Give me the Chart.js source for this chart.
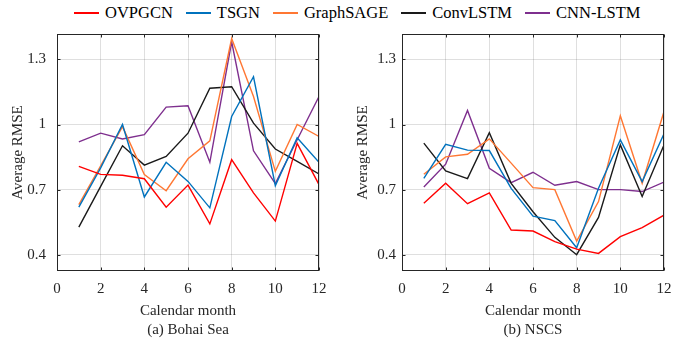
<!DOCTYPE html>
<html>
<head>
<meta charset="utf-8">
<script src="https://cdn.jsdelivr.net/npm/chart.js@4.4.1/dist/chart.umd.min.js"></script>
<style>
  body { margin: 0; background: #fff; }
  #wrap { position: relative; width: 697px; height: 343px; overflow: hidden; }
  #legend { position: absolute; left: 74px; top: 3px; display: flex; font-family: "Liberation Serif", serif; font-size: 16.5px; color: #000; }
  #legend .item { display: flex; align-items: center; margin-right: 13px; height: 20px; }
  #legend .swatch { width: 25px; height: 2px; margin-right: 6px; }
  canvas { position: absolute; top: 0; }
</style>
</head>
<body>
<div id="wrap">
  <div id="legend"></div>
  <canvas id="bohai" width="345" height="343" style="left:0px"></canvas>
  <canvas id="nscs" width="345" height="343" style="left:345px"></canvas>
</div>
<script>
const months = [1, 2, 3, 4, 5, 6, 7, 8, 9, 10, 11, 12];
const seriesNames = ["OVPGCN", "TSGN", "GraphSAGE", "ConvLSTM", "CNN-LSTM"];
const seriesColors = ["#ff0000", "#0072bd", "#ff7733", "#1a1a1a", "#7e2f8e"];
const yTicks = [0.4, 0.7, 1, 1.3];

// (a) Bohai Sea
const bohaiOVPGCN = [0.807, 0.770, 0.766, 0.750, 0.619, 0.721, 0.542, 0.838, 0.685, 0.555, 0.913, 0.723];
const bohaiTSGN = [0.619, 0.800, 1.000, 0.666, 0.826, 0.738, 0.616, 1.037, 1.220, 0.718, 0.939, 0.826];
const bohaiGraphSAGE = [0.631, 0.810, 0.990, 0.769, 0.695, 0.842, 0.925, 1.396, 1.129, 0.784, 1.000, 0.945];
const bohaiConvLSTM = [0.527, 0.715, 0.902, 0.813, 0.853, 0.960, 1.167, 1.174, 1.006, 0.887, 0.830, 0.772];
const bohaiCNNLSTM = [0.920, 0.960, 0.933, 0.953, 1.080, 1.086, 0.826, 1.381, 0.879, 0.728, 0.930, 1.129];

// (b) NSCS
const nscsOVPGCN = [0.637, 0.729, 0.635, 0.685, 0.514, 0.509, 0.460, 0.426, 0.406, 0.483, 0.525, 0.582];
const nscsTSGN = [0.752, 0.909, 0.882, 0.880, 0.706, 0.578, 0.557, 0.432, 0.706, 0.929, 0.737, 0.957];
const nscsGraphSAGE = [0.771, 0.851, 0.863, 0.934, 0.822, 0.709, 0.700, 0.463, 0.645, 1.040, 0.729, 1.060];
const nscsConvLSTM = [0.914, 0.786, 0.751, 0.962, 0.729, 0.598, 0.480, 0.400, 0.572, 0.906, 0.668, 0.906];
const nscsCNNLSTM = [0.712, 0.817, 1.065, 0.798, 0.732, 0.780, 0.720, 0.737, 0.700, 0.700, 0.691, 0.735];

const FONT = "Liberation Serif";
const AXIS_COLOR = "#262626";

// html legend shared by both panels
const legendEl = document.getElementById("legend");
seriesNames.forEach((name, i) => {
  const item = document.createElement("div");
  item.className = "item";
  const sw = document.createElement("span");
  sw.className = "swatch";
  sw.style.background = seriesColors[i];
  item.appendChild(sw);
  item.appendChild(document.createTextNode(name));
  legendEl.appendChild(item);
});

// MATLAB style box with inward ticks on all four sides
const frameBox = {
  id: "frameBox",
  afterDraw(chart) {
    const { ctx, chartArea: a, scales } = chart;
    const L = Math.round(a.left) + 0.5, R = Math.round(a.right) - 0.5;
    const T = Math.round(a.top) + 0.5, B = Math.round(a.bottom) - 0.5;
    ctx.save();
    ctx.strokeStyle = AXIS_COLOR;
    ctx.lineWidth = 1;
    ctx.strokeRect(L, T, R - L, B - T);
    ctx.beginPath();
    scales.x.ticks.forEach(t => {
      const px = Math.round(scales.x.getPixelForValue(t.value)) + 0.5;
      ctx.moveTo(px, B); ctx.lineTo(px, B - 3);
      ctx.moveTo(px, T); ctx.lineTo(px, T + 3);
    });
    scales.y.ticks.forEach(t => {
      const py = Math.round(scales.y.getPixelForValue(t.value)) + 0.5;
      ctx.moveTo(L, py); ctx.lineTo(L + 3, py);
      ctx.moveTo(R, py); ctx.lineTo(R - 3, py);
    });
    ctx.stroke();
    ctx.restore();
  }
};

function makeChart(id, caption, series, tickPad) {
  const datasets = series.map((vals, i) => ({
    label: seriesNames[i],
    data: months.map((m, j) => ({ x: m, y: vals[j] })),
    borderColor: seriesColors[i],
    borderWidth: 1.4,
    pointRadius: 0,
    tension: 0,
    fill: false
  }));

  return new Chart(document.getElementById(id), {
    type: "line",
    data: { datasets },
    plugins: [frameBox],
    options: {
      responsive: false,
      animation: false,
      layout: { padding: { top: 34, right: 26, bottom: 0, left: 0 } },
      plugins: { legend: { display: false }, tooltip: { enabled: false } },
      scales: {
        x: {
          type: "linear",
          min: 0,
          max: 12,
          ticks: { stepSize: 2, color: AXIS_COLOR, padding: 9, maxRotation: 0, font: { family: FONT, size: 15 } },
          grid: { color: "rgba(38,38,38,0.15)", drawTicks: false },
          border: { display: false },
          title: {
            display: true,
            text: ["Calendar month", caption],
            color: AXIS_COLOR,
            font: { family: FONT, size: 15, lineHeight: 1.27 },
            padding: { top: 0, bottom: 3 }
          },
          afterFit(scale) { scale.height = 72; }
        },
        y: {
          min: 0.325,
          max: 1.417,
          afterBuildTicks(scale) { scale.ticks = yTicks.map(v => ({ value: v })); },
          ticks: { color: AXIS_COLOR, padding: tickPad, font: { family: FONT, size: 15 }, callback: v => String(v) },
          grid: { color: "rgba(38,38,38,0.15)", drawTicks: false },
          border: { display: false },
          title: {
            display: true,
            text: "Average RMSE",
            color: AXIS_COLOR,
            font: { family: FONT, size: 15 },
            padding: { top: 9, bottom: 0 }
          },
          afterFit(scale) { scale.width = 57; }
        }
      }
    }
  });
}

makeChart("bohai", "(a) Bohai Sea", [bohaiOVPGCN, bohaiTSGN, bohaiGraphSAGE, bohaiConvLSTM, bohaiCNNLSTM], 11);
makeChart("nscs", "(b) NSCS", [nscsOVPGCN, nscsTSGN, nscsGraphSAGE, nscsConvLSTM, nscsCNNLSTM], 6);
</script>
</body>
</html>
